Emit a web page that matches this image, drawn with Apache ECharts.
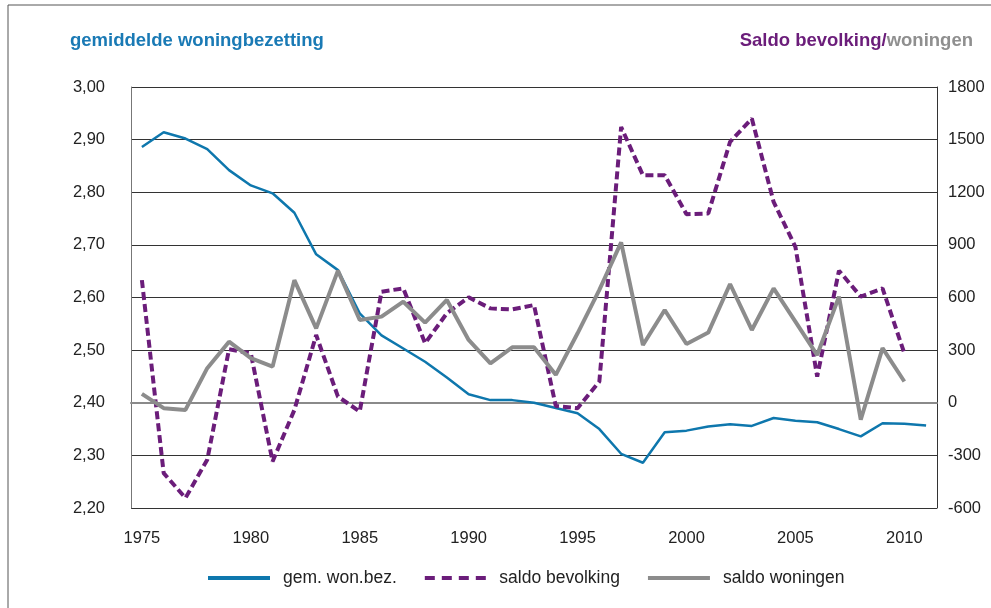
<!DOCTYPE html>
<html>
<head>
<meta charset="utf-8">
<script src="https://cdn.jsdelivr.net/npm/echarts@6/dist/echarts.min.js"></script>
<style>
  html, body { margin: 0; padding: 0; background: #fff; }
  #chart { width: 991px; height: 608px; }
</style>
</head>
<body>
<div id="chart"></div>
<script>
// jaren 1975 - 2011
var years = [];
for (var y = 1975; y <= 2011; y++) years.push(String(y));

// gemiddelde woningbezetting (linker as)
var gemWonBez = [2.886, 2.914, 2.902, 2.882, 2.842, 2.813, 2.798, 2.761, 2.682, 2.652,
  2.570, 2.528, 2.503, 2.478, 2.448, 2.416, 2.405, 2.405, 2.400, 2.390,
  2.380, 2.350, 2.303, 2.286, 2.344, 2.347, 2.355, 2.359, 2.356, 2.371,
  2.366, 2.363, 2.350, 2.336, 2.361, 2.360, 2.357];

// saldo bevolking (rechter as)
var saldoBevolking = [699, -401, -543, -325, 305, 282, -335, -41, 386, 35,
  -50, 633, 652, 339, 510, 601, 538, 532, 557, -18,
  -31, 121, 1572, 1297, 1297, 1075, 1079, 1487, 1620, 1145,
  889, 149, 753, 605, 652, 282, null];

// saldo woningen (rechter as)
var saldoWoningen = [51, -31, -41, 197, 348, 254, 206, 699, 424, 753,
  472, 491, 576, 457, 586, 358, 225, 316, 316, 159,
  396, 643, 914, 329, 529, 335, 400, 677, 415, 652,
  462, 272, 605, -97, 311, 121, null];

var blue = '#0E77AD';
var purple = '#6B1D7A';
var grey = '#8C8C8C';
var font = 'Liberation Sans, Arial, sans-serif';

var chart = echarts.init(document.getElementById('chart'));
chart.setOption({
  animation: false,
  textStyle: { fontFamily: font },
  graphic: [
    {
      type: 'polyline',
      shape: { points: [[8, 612], [8, 5], [995, 5]] },
      style: { stroke: '#555', lineWidth: 1, fill: null }
    },
    {
      type: 'text', left: 70, top: 31,
      style: { text: 'gemiddelde woningbezetting', fill: '#1A7AB5', font: 'bold 18.5px ' + font }
    },
    {
      type: 'text', right: 18, top: 31,
      style: {
        text: '{p|Saldo bevolking/}{g|woningen}',
        font: 'bold 18.5px ' + font,
        rich: {
          p: { fill: purple, font: 'bold 18.5px ' + font },
          g: { fill: '#8F8F8F', font: 'bold 18.5px ' + font }
        }
      }
    }
  ],
  grid: { left: 131, right: 54, top: 87, bottom: 100 },
  legend: {
    bottom: 16,
    left: 203,
    itemWidth: 62,
    itemHeight: 4,
    itemGap: 28,
    icon: 'rect',
    textStyle: { fontSize: 17.5, color: '#222', fontFamily: font, padding: [0, 0, 0, 8] },
    data: [
      { name: 'gem. won.bez.', itemStyle: { color: blue } },
      { name: 'saldo bevolking', icon: 'path://M0,0h10v4h-10zM17,0h10v4h-10zM34,0h10v4h-10zM51,0h10v4h-10z', itemStyle: { color: purple } },
      { name: 'saldo woningen', itemStyle: { color: grey } }
    ]
  },
  xAxis: {
    type: 'category',
    data: years,
    boundaryGap: true,
    axisLine: { lineStyle: { color: '#8A8A8A', width: 2 } },
    axisTick: { interval: 0, length: 4, lineStyle: { color: '#555' } },
    axisLabel: { interval: 4, margin: 22, fontSize: 16.5, color: '#222', fontFamily: font }
  },
  yAxis: [
    {
      type: 'value',
      min: 2.2, max: 3.0, interval: 0.1,
      axisLine: { show: true, lineStyle: { color: '#777' } },
      axisTick: { show: false },
      axisLabel: {
        margin: 26, fontSize: 16.5, color: '#222', fontFamily: font,
        formatter: function (v) { return v.toFixed(2).replace('.', ','); }
      },
      splitLine: { lineStyle: { color: '#333', width: 1 } }
    },
    {
      type: 'value',
      min: -600, max: 1800, interval: 300,
      axisLine: { show: true, lineStyle: { color: '#333' } },
      axisTick: { show: false },
      axisLabel: {
        margin: 11, fontSize: 16.5, color: '#222', fontFamily: font,
        formatter: function (v) { return String(v); }
      },
      splitLine: { show: false }
    }
  ],
  series: [
    {
      name: 'gem. won.bez.', type: 'line', yAxisIndex: 0,
      data: gemWonBez, showSymbol: false, symbol: 'none',
      lineStyle: { color: blue, width: 2.5 }, itemStyle: { color: blue }
    },
    {
      name: 'saldo bevolking', type: 'line', yAxisIndex: 1,
      data: saldoBevolking, showSymbol: false, symbol: 'none',
      lineStyle: { color: purple, width: 4, type: [8, 4] }, itemStyle: { color: purple }
    },
    {
      name: 'saldo woningen', type: 'line', yAxisIndex: 1,
      data: saldoWoningen, showSymbol: false, symbol: 'none',
      lineStyle: { color: grey, width: 4 }, itemStyle: { color: grey }
    }
  ]
});
</script>
</body>
</html>
